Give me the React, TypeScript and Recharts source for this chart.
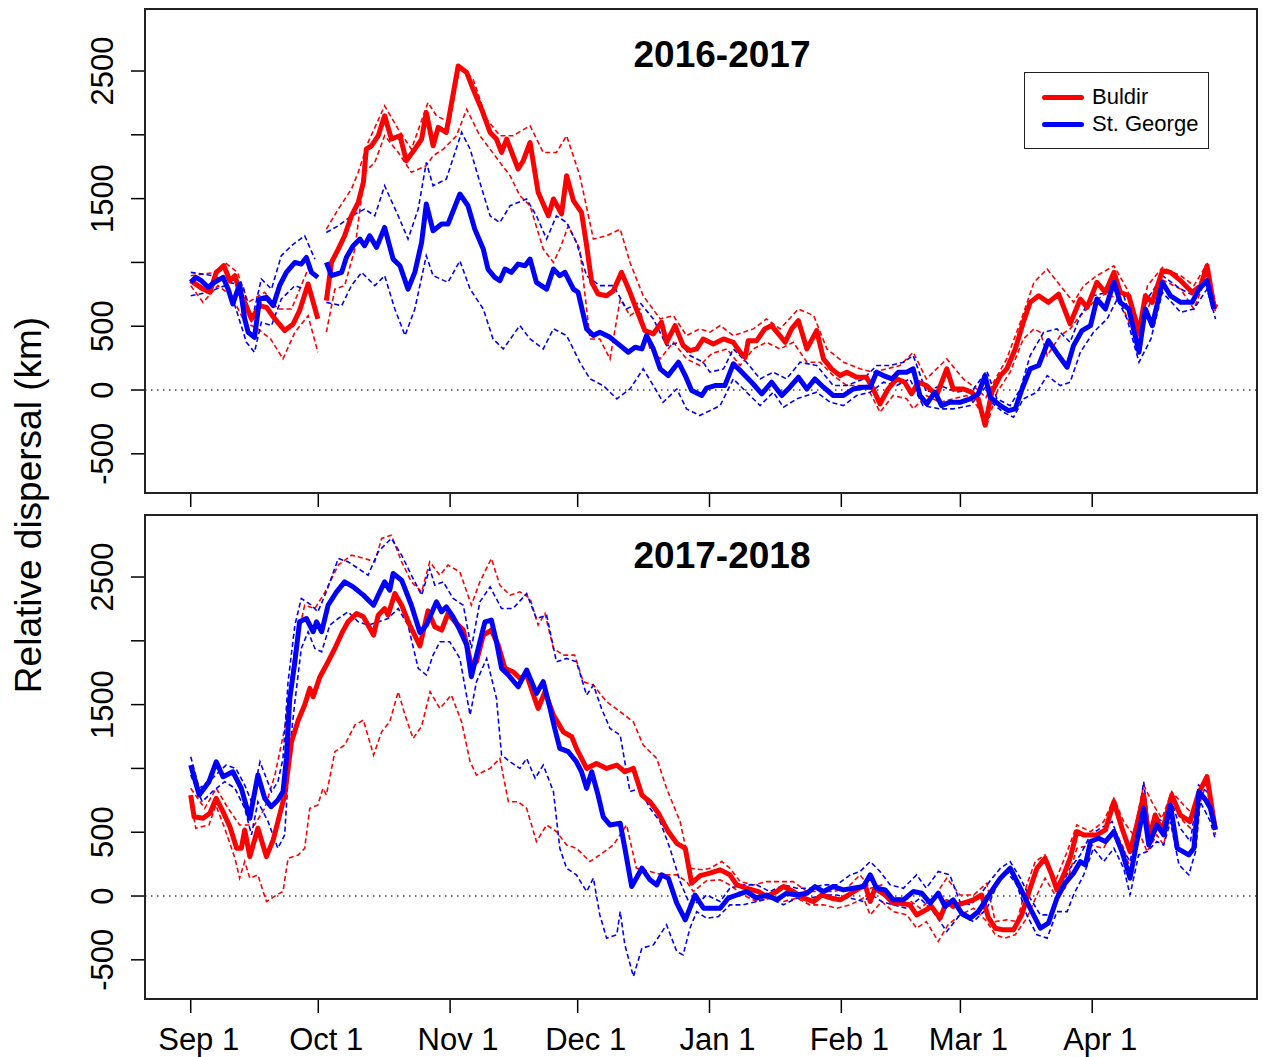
import { LineChart, Line, XAxis, YAxis, ReferenceLine } from 'recharts';

// days since Sep 1 -> relative dispersal (km); null marks a gap in the track
type Pt = [number, number | null];

const MONTH_TICKS = [0, 30, 61, 91, 122, 153, 181, 212];
const MONTH_LABELS = ['Sep 1', 'Oct 1', 'Nov 1', 'Dec 1', 'Jan 1', 'Feb 1', 'Mar 1', 'Apr 1'];
const Y_TICKS = [-500, 0, 500, 1000, 1500, 2000, 2500];
const Y_LABELED = [-500, 0, 500, 1500, 2500];

const RED = '#ff0000';
const BLUE = '#0000ff';
const FONT = 'Liberation Sans, Arial, Helvetica, sans-serif';

// ---- 2016-2017 ----
const buldir16: Pt[] = [[0,857],[2.9,791],[4.5,766],[6,922],[7.8,974],[9.2,857],[10.4,896],[11.5,766],[12.7,687],[14.3,557],[16.2,661],[17.8,648],[19.8,557],[22.1,466],[24.1,518],[25.6,622],[27.6,831],[29.9,557],[30.9,null],[31.9,700],[33.1,1000],[34.7,1104],[36.2,1209],[37.8,1365],[39.4,1470],[40.6,1627],[41.3,1888],[42.5,1914],[44.1,1993],[45.6,2149],[47.2,1967],[49.2,1993],[50.7,1797],[52.7,1888],[54.3,1967],[55.4,2175],[57,1914],[58.2,2058],[60.1,2019],[62.9,2540],[64.9,2488],[66.4,2358],[68.4,2201],[70.4,2019],[71.9,1967],[73.1,1862],[74.3,1967],[75.8,1836],[77,1732],[78.2,1797],[79.8,1940],[81.7,1549],[84.1,1366],[85.3,1497],[87.2,1380],[88.4,1680],[90,1484],[91.9,1392],[93.1,1131],[94.3,844],[95.8,752],[97.8,739],[99.4,778],[101.3,922],[103.3,766],[104.8,635],[106.8,466],[108.8,440],[110.7,531],[111.9,374],[113.9,505],[115.8,348],[117.4,309],[119,322],[120.5,400],[122.9,361],[125.3,400],[127.6,374],[129.2,296],[130.4,257],[131.1,387],[133.1,387],[135,479],[136.6,505],[138.2,440],[139.8,374],[141.3,479],[142.9,544],[144.9,322],[147.2,466],[148.8,244],[150.7,166],[152.7,113],[154.3,140],[156.6,100],[158.9,100],[160.5,8],[162.1,-109],[164,8],[166,87],[167.9,61],[169.5,-30],[171.1,61],[173,35],[175.4,-43],[177.8,166],[179.3,8],[181.7,8],[183.6,-17],[185.2,-69],[186.8,-275],[188.4,-17],[190.4,113],[191.9,166],[193.9,322],[195.8,531],[197.4,687],[199.4,739],[201.7,687],[204.1,752],[206.8,518],[209.2,713],[210.8,648],[213.1,844],[215.1,766],[217.1,922],[218.6,766],[220.6,739],[223,453],[224.5,739],[226.1,687],[228.5,935],[230.4,922],[232.8,857],[235.5,766],[237.5,818],[239,974],[240.6,661],[241.4,648]];
const buldir16Hi: Pt[] = [[0,896],[5.9,922],[8,1000],[11,922],[13.5,687],[17.4,766],[20.5,635],[23.7,635],[27.6,948],[29.9,896],[30.9,null],[31.9,1261],[34.7,1418],[37.8,1575],[39.4,1706],[41.7,1940],[45.6,2227],[48.8,2045],[51.9,1888],[55.8,2253],[57.8,2149],[60.9,2097],[63.3,2540],[66.4,2436],[69.6,2123],[72.7,1993],[75.8,1993],[79.8,2071],[82.9,1862],[86,1862],[88.4,1993],[91.5,1680],[94.7,1183],[97.8,1209],[101,1261],[103.3,1000],[106.4,739],[110.4,557],[113.5,583],[116.6,427],[119.7,479],[122.1,453],[124.5,505],[127.6,427],[132.3,479],[135.4,557],[138.6,479],[142.9,635],[146.5,583],[149.6,322],[153.5,218],[157.4,166],[160.5,140],[163.7,166],[166.8,192],[169.9,296],[173,87],[177.8,244],[181.7,87],[184.9,8],[187,-60],[188.8,61],[191.9,244],[195.1,531],[198.3,844],[201.4,948],[204.5,818],[207.6,687],[210,818],[213.1,896],[217.1,974],[220.2,791],[223,505],[225,818],[228.5,961],[232.8,896],[235.9,818],[239,987],[241,661]];
const buldir16Lo: Pt[] = [[0,818],[2.9,687],[6.4,818],[9.6,739],[12.7,531],[15.8,479],[18.8,400],[21.7,244],[24.5,453],[27.6,583],[29.9,296],[30.9,null],[31.9,453],[33.9,791],[36.2,818],[38.6,1105],[40.9,1706],[43.3,1784],[45.6,1993],[48.8,1862],[51.9,1706],[55.4,1758],[57,1836],[59.4,1888],[62.5,1993],[64.9,2201],[68,1993],[70.4,1888],[72.7,1784],[75.1,1680],[77.4,1523],[79.8,1444],[82.9,1105],[85.3,1000],[86.8,1105],[88.8,1287],[91.5,1105],[93.9,400],[96.2,400],[98.6,244],[101,713],[103.3,583],[105.6,635],[108,322],[110.4,244],[113.5,374],[116.6,244],[119.7,192],[122.5,285],[126.1,322],[129.2,192],[132.3,322],[135.4,374],[138.6,322],[141.7,374],[144.9,218],[148,218],[151.1,113],[154.3,35],[158.9,35],[162.1,-174],[165.2,-43],[168.4,-69],[169.9,-148],[173,-43],[176.2,-96],[179.3,-69],[182.5,-43],[184.9,-122],[187.2,-278],[189.6,-17],[192.7,140],[195.8,400],[198.3,479],[199.8,453],[201.4,270],[204.5,427],[206.8,479],[209.2,583],[212.3,687],[215.5,766],[218.6,687],[222.5,400],[225,635],[228.1,870],[232.8,791],[235.9,635],[239,896],[241,609]];
const george16: Pt[] = [[0,844],[1.2,883],[2.5,857],[4.1,805],[5.6,844],[7.6,883],[8.8,791],[9.9,674],[11.5,831],[12.7,557],[13.5,453],[15,413],[16.2,713],[17.8,726],[19.4,661],[20.9,818],[22.5,922],[24.5,1000],[26,987],[27.2,1039],[28.4,922],[29.9,883],[30.9,null],[31.9,1000],[33.1,896],[35.5,922],[36.6,1039],[38.2,1131],[39.8,1183],[40.9,1131],[42.1,1209],[43.7,1118],[45.6,1274],[47.6,1026],[49.2,974],[51.1,791],[52.7,922],[54.3,1157],[55.4,1457],[57,1248],[59,1301],[60.5,1301],[63.3,1536],[65.2,1444],[66.8,1261],[68.8,1105],[69.9,948],[71.5,883],[72.7,857],[73.9,948],[75.4,922],[77,987],[78.6,974],[79.8,1026],[81.3,844],[83.7,791],[85.3,948],[86.8,896],[88,922],[90,791],[91.1,766],[93.1,479],[94.7,427],[96.2,453],[98.6,413],[101,348],[102.9,296],[104.5,335],[106.1,322],[107.2,427],[108.8,322],[110.4,166],[112.3,113],[114.7,218],[116.3,113],[117.8,-4],[120.2,-43],[121.3,15],[123.3,35],[125.6,35],[127.6,205],[129.6,140],[131.9,61],[134.3,-30],[136.6,61],[139,-43],[140.9,22],[142.9,100],[144.9,8],[146.8,87],[148.8,22],[151.1,-43],[153.5,-43],[155.8,8],[158.2,22],[159.8,22],[161.3,140],[162.9,113],[164.9,87],[166.4,140],[168.4,140],[169.9,166],[171.5,-43],[173.1,-109],[175,-17],[176.6,-122],[178.5,-96],[180.9,-96],[183.3,-69],[185.2,-30],[186.8,113],[188,-56],[190.4,-122],[192.3,-161],[193.9,-148],[195.5,8],[197.4,166],[199.4,192],[201.7,387],[204.1,270],[206.1,179],[207.6,348],[209.6,466],[211.6,505],[213.1,713],[215.1,635],[217.1,844],[218.6,687],[220.6,635],[223,296],[224.5,635],[226.1,505],[228.5,844],[230.4,739],[232.8,687],[235.5,687],[237.1,791],[239,857],[240.6,635]];
const george16Hi: Pt[] = [[0,922],[5.1,896],[9,844],[12.3,818],[14.3,531],[16.6,870],[19,791],[21.3,1052],[23.7,1131],[26.8,1209],[29.2,1026],[30.9,null],[31.9,1235],[34.7,1287],[37.8,1365],[40.9,1418],[43.3,1365],[45.6,1601],[48.8,1365],[51.1,1183],[53.5,1418],[55.4,1784],[57,1601],[60.1,1653],[63.7,2019],[65.7,1888],[68,1627],[70.4,1365],[72.7,1313],[75.1,1444],[79,1497],[81.3,1365],[83.7,1183],[86,1365],[88.4,1313],[90.7,1157],[93.1,896],[96.2,818],[99.4,818],[102.5,635],[105.6,687],[108.8,557],[111.9,348],[115.1,374],[117.4,270],[120.5,218],[122.1,140],[125.3,166],[127.6,322],[130.7,218],[133.9,87],[137,140],[140.1,87],[143.3,218],[147.2,192],[151.1,35],[154.3,35],[158.2,87],[161.3,192],[164.5,192],[167.6,218],[169.9,270],[173,-17],[176.2,35],[180.1,-17],[184.1,8],[187.2,150],[189.6,-69],[192.7,-122],[195.1,8],[197.4,270],[200.6,453],[203.7,479],[206.8,374],[209.2,583],[212.3,739],[215.5,766],[217.1,896],[219.4,739],[223,374],[225,713],[228.5,896],[232.8,791],[235.9,739],[239,922],[241,687]];
const george16Lo: Pt[] = [[0,739],[4.1,766],[8,818],[10.4,661],[13.1,374],[15,296],[16.6,531],[19,505],[21.3,713],[24.5,818],[26.8,791],[28.8,713],[30.9,null],[31.9,687],[35.5,661],[37.8,818],[40.2,922],[43.3,818],[45.6,896],[48,635],[50.4,427],[52.7,635],[55.4,1052],[57,896],[60.5,844],[63.3,1013],[65.7,791],[68.8,635],[71.1,400],[73.5,322],[77.4,505],[79.8,400],[82.9,322],[85.3,479],[88.4,427],[91.5,218],[93.9,87],[97,35],[100.2,-69],[103.3,8],[106.4,166],[108.8,35],[111.1,-96],[114.3,8],[116.6,-148],[119.7,-200],[121.3,-174],[124.5,-122],[127.6,87],[130.7,-17],[133.9,-122],[137,-17],[139.4,-135],[142.5,-69],[144.9,-43],[147.2,-17],[150.4,-96],[153.5,-122],[156.6,-43],[159.8,-17],[162.9,61],[166,35],[169.1,87],[172.2,-122],[176.2,-148],[179.3,-148],[183.3,-122],[187.2,35],[188.2,-96],[191.1,-174],[193.5,-213],[195.8,-69],[199,-17],[201.4,113],[204.5,35],[206.8,61],[209.2,296],[212.3,453],[215.5,557],[217.9,713],[220.2,557],[223,218],[225.8,400],[228.5,766],[232.8,609],[235.9,635],[239,791],[241,557]];

// ---- 2017-2018 ----
const buldir17: Pt[] = [[0,791],[0.8,621],[2.9,609],[4.5,648],[6,766],[7.6,661],[9.2,544],[10.8,374],[11.9,374],[12.7,518],[13.9,309],[15.8,531],[17.8,309],[19.4,440],[20.9,635],[22.1,791],[23.7,1209],[25.3,1379],[26.8,1497],[28,1627],[28.8,1562],[30.4,1719],[31.9,1810],[33.9,1940],[35.5,2058],[37,2149],[39,2214],[40.6,2188],[43,2045],[44.1,2201],[45.6,2253],[46.4,2201],[48,2371],[49.6,2279],[51.5,2123],[53.9,1960],[55.8,2235],[57.4,2110],[59,2084],[60.5,2214],[62.5,2136],[64.1,2084],[66,1810],[67.2,1836],[68.8,2045],[70.7,2084],[72.3,1967],[73.9,1784],[75.8,1758],[77.4,1706],[79,1732],[80.6,1575],[81.7,1470],[83.3,1601],[85.3,1418],[87.6,1287],[89.6,1248],[90.7,1157],[93.1,1000],[95.4,1039],[97.8,1000],[100.2,1026],[102.1,974],[104.1,1000],[106.1,791],[108,739],[110,648],[112.3,505],[114.3,413],[116.3,374],[117.8,100],[119.8,160],[122.1,179],[124.5,205],[126.8,166],[128.4,87],[130.7,61],[133.5,35],[135.4,-4],[137.8,35],[139.4,74],[141.7,35],[144.1,-17],[146.5,-43],[148.4,8],[150.7,-17],[152.7,-30],[154.7,8],[156.6,48],[158.6,87],[159.8,-43],[160.9,61],[163.3,8],[165.2,-56],[166.8,-56],[169.1,-69],[170.7,-148],[172.2,-122],[174.2,-82],[176.2,-174],[177.8,-43],[179.3,-82],[181.7,-56],[184.1,-30],[186,8],[187.6,-170],[189.2,-252],[191.1,-265],[193.5,-265],[195.4,-148],[197.4,61],[199,218],[200.9,296],[202.5,166],[203.7,48],[205.3,166],[206.8,296],[208.4,505],[210,479],[211.6,479],[213.1,479],[215.1,518],[217.1,739],[219,531],[220.9,348],[222.5,557],[224.1,791],[225.3,440],[226.8,635],[228.4,505],[230.7,791],[232.7,635],[235,583],[237,805],[239,935],[240.9,531]];
const buldir17Hi: Pt[] = [[0,844],[3.3,687],[6,844],[8.8,687],[11.5,557],[15,557],[17.4,687],[19.8,948],[22.1,1313],[24.5,1940],[26.8,2279],[29.2,2253],[31.6,2384],[34.7,2593],[37.8,2671],[40.9,2645],[43.3,2619],[44.9,2802],[47.2,2828],[49.6,2619],[51.9,2462],[54.3,2384],[56.2,2619],[58.6,2514],[60.5,2593],[63.3,2540],[66,2279],[68,2462],[70.7,2645],[72.7,2436],[75.1,2358],[77.4,2384],[79.8,2332],[81.7,2123],[83.3,2214],[85.3,1940],[87.6,1888],[90.3,1888],[92.3,1680],[94.7,1653],[97.8,1523],[101,1444],[104.1,1365],[106.4,1183],[109.6,1078],[111.9,844],[115.1,583],[117.4,218],[120.5,205],[122.1,218],[124.9,270],[126.8,218],[129.2,113],[132.3,87],[135.4,113],[138.9,113],[141.7,113],[144.9,35],[148,35],[151.1,35],[154.3,61],[157.4,166],[159.8,61],[162.5,87],[165.2,-17],[168.4,-17],[171.5,-96],[174.6,-17],[177.8,140],[180.9,8],[184.1,8],[187.2,100],[189.2,-200],[191.9,-187],[194.3,-200],[196.6,87],[198.6,270],[200.9,322],[203.3,113],[206.1,348],[208.4,557],[211.6,505],[214.7,583],[217.1,766],[219.4,583],[221.7,479],[224.1,870],[226.4,713],[228.4,609],[230.7,818],[233.5,713],[235.9,635],[237.4,844],[239,961],[241,557]];
const buldir17Lo: Pt[] = [[0,739],[1.2,531],[4.3,557],[5.9,713],[8,531],[10.4,296],[11.5,140],[12.7,270],[13.9,140],[15.8,166],[17.8,-43],[20.2,8],[21.7,35],[22.9,296],[25.3,322],[26.8,374],[28,687],[29.9,713],[31.1,844],[31.9,791],[33.9,1131],[36.2,1183],[38.6,1339],[40.6,1379],[43,1105],[44.9,1287],[46.8,1365],[48.8,1601],[50.4,1418],[52.3,1235],[54.3,1330],[56.3,1601],[58.6,1470],[61.3,1575],[63.7,1365],[65.7,1052],[67.2,948],[70.4,1000],[72.7,1078],[74.7,739],[77,739],[79,687],[81.3,427],[83.7,557],[86,505],[88.4,400],[90.7,374],[93.9,270],[96.2,322],[99.4,400],[102.5,557],[104.8,218],[108,192],[111.1,166],[114.3,166],[116.6,113],[118.2,35],[121.3,120],[124.5,127],[126.8,87],[129.9,8],[133.1,-43],[136.2,-17],[139.4,-43],[142.5,-17],[145.6,-69],[148.8,-69],[151.9,-96],[155.1,-69],[158.2,-17],[159.8,-148],[162.5,-43],[165.2,-122],[168.4,-148],[170.7,-252],[173,-200],[175.8,-356],[178.1,-226],[180.9,-148],[184.1,-96],[187.2,-200],[189.2,-304],[191.5,-330],[193.9,-304],[196.6,-174],[199,8],[200.9,140],[203.3,8],[205.6,61],[208.4,374],[211.6,400],[214.7,374],[217.1,531],[219.4,374],[220.9,218],[223.3,479],[224.9,348],[227.2,479],[228.8,400],[230.7,713],[233.5,583],[235.9,505],[237.4,739],[239,896],[241,479]];
const george17: Pt[] = [[0,1026],[2,791],[4.3,896],[6,1052],[7.6,935],[9.9,974],[11.9,844],[13.9,609],[15.8,948],[17.4,766],[18.9,700],[20.5,752],[21.7,818],[22.5,1078],[23.3,1549],[24.5,1836],[25.6,2149],[27.2,2175],[28.8,2071],[29.6,2149],[30.8,2071],[32.3,2279],[34.3,2384],[36.2,2462],[38.2,2423],[40.6,2358],[43,2279],[44.1,2358],[45.6,2462],[46.8,2397],[47.6,2527],[49.6,2475],[51.9,2279],[53.9,2065],[55.4,2123],[56.6,2214],[57.8,2306],[59,2227],[60.1,2266],[61.7,2188],[63.3,2084],[64.9,1967],[66,1719],[67.6,1940],[69.2,2149],[70.7,2162],[71.9,1993],[73.1,1784],[74.7,1732],[77,1640],[79,1771],[81.3,1588],[82.9,1680],[84.5,1470],[85.6,1313],[86.8,1157],[88.8,1131],[90.7,1052],[91.9,974],[93.1,844],[94.3,974],[95.8,791],[97,621],[98.6,557],[101,570],[102.1,374],[103.7,74],[106.1,218],[108,127],[109.6,87],[110.7,166],[112.3,140],[114.3,-56],[116.3,-187],[118.6,8],[120.6,-96],[122.1,-96],[124.5,-96],[126.4,-17],[128.4,8],[130.7,35],[133.1,-17],[135.4,8],[137.8,-30],[140.1,22],[142.5,8],[144.9,22],[146.8,74],[148.8,35],[151.1,74],[153.5,48],[155.8,61],[158.2,74],[159.8,166],[161.3,61],[163.3,48],[165.2,-30],[167.6,-30],[169.9,35],[171.9,22],[173.9,-56],[175.8,22],[177.4,-82],[179.3,-30],[181.3,-135],[183.3,-174],[185.2,-122],[186.8,-43],[188,22],[190.4,140],[192.7,218],[195.1,61],[197.4,-96],[199.8,-252],[201.7,-213],[203.7,-17],[205.6,100],[207.6,179],[209.2,270],[210.4,244],[211.6,427],[213.5,453],[215.1,427],[217.1,505],[219,348],[220.9,140],[222.5,427],[224.1,687],[225.3,400],[227.2,557],[228.8,479],[230.4,713],[232,374],[234.7,322],[235.9,374],[237.1,818],[238.7,752],[239.8,687],[241,518]];
const george17Hi: Pt[] = [[0,1092],[2,844],[5.1,922],[8.3,1026],[10.6,1000],[12.7,870],[14.3,739],[16.3,1052],[19,818],[20.5,896],[21.7,1078],[22.9,1680],[24.5,2123],[26,2332],[28.4,2279],[29.9,2227],[31.9,2384],[34.7,2645],[37,2619],[39.4,2567],[41.7,2514],[44.1,2697],[45.6,2750],[47.2,2802],[49.6,2671],[51.9,2514],[54.3,2358],[56.2,2567],[57.4,2436],[59.4,2462],[61.7,2332],[64.1,2279],[66,1940],[68,2306],[70.4,2423],[73.1,2253],[75.8,2253],[79,2371],[81.3,2175],[83.7,2201],[86,1836],[88.4,1862],[90.7,1836],[93.1,1575],[94.7,1653],[96.6,1470],[98.6,1313],[101,1261],[103.3,818],[105.6,844],[108,687],[110.4,583],[112.7,374],[115.1,113],[117.4,-69],[119.7,-43],[121.3,8],[124.5,-43],[126.8,61],[129.9,87],[133.1,87],[136.2,35],[139.4,87],[142.5,61],[145.6,61],[148.8,87],[151.9,87],[155.1,166],[157.4,192],[159.8,270],[162.1,192],[164.5,87],[167.6,61],[170.7,166],[173,61],[175.8,192],[178.5,166],[180.9,-43],[183.3,-69],[185.6,8],[188,120],[190.4,218],[192.7,270],[195.1,140],[197.4,-17],[199.8,-148],[202.1,-148],[204.5,61],[206.8,218],[209.2,322],[211.6,479],[213.9,531],[216.7,583],[218.6,400],[220.9,270],[222.5,531],[224.1,896],[225.6,479],[227.2,609],[228.8,583],[230.4,766],[232.7,531],[235.1,427],[237,870],[239,818],[241,583]];
const george17Lo: Pt[] = [[0,948],[2.7,739],[5.1,818],[8,896],[10.4,844],[12.7,687],[14.3,479],[15.8,739],[18.2,583],[20.5,374],[22.1,479],[23.3,1157],[24.5,1523],[26,1940],[27.6,2071],[29.2,1940],[30.8,1914],[32.7,2123],[34.7,2175],[37,2227],[39.4,2149],[41.7,2123],[44.1,2149],[46.4,2175],[48.8,2253],[51.1,2123],[53.5,1784],[55.4,1732],[57,1888],[58.6,1993],[60.9,1993],[63.3,1862],[65.7,1418],[67.2,1680],[69.6,1862],[71.9,1549],[73.1,1105],[75.1,1052],[77.4,1000],[79,1078],[81,922],[82.9,1026],[85.3,818],[86.8,374],[88.4,218],[90.7,166],[93.1,35],[94.7,140],[96.2,-148],[97.8,-330],[100.2,-304],[101,-122],[102.1,-383],[104.1,-631],[106.1,-409],[108.8,-383],[111.9,-226],[114.3,-435],[115.8,-461],[117.4,-252],[119,-122],[121.3,-174],[124.1,-161],[126.8,-69],[129.9,-69],[133.1,-43],[136.2,-17],[139.4,-69],[142.5,-17],[145.6,-17],[148.8,8],[151.9,8],[155.1,-17],[158.2,-43],[160.2,8],[162.5,-43],[165.2,-69],[168.4,-96],[171.5,-17],[174.6,-122],[177.8,-278],[180.9,-148],[184.1,-200],[187.2,-100],[189.6,87],[191.9,192],[194.3,87],[196.6,-148],[199,-304],[201.4,-330],[203.7,-122],[206.1,-122],[207.6,8],[210,166],[212.3,374],[214.7,270],[217.1,374],[219.4,218],[220.9,8],[222.9,322],[224.9,348],[227.2,427],[228.8,400],[230.4,583],[232.4,244],[234.7,166],[236.3,348],[237.4,739],[239.8,583],[241,440]];

const toRows = (pts: Pt[]) => pts.map(([d, v]) => ({ d, v }));

const XTick = ({ x, y, payload, show }: any) => {
  if (!show) return <g />;
  const i = MONTH_TICKS.indexOf(payload.value);
  return (
    <text x={x + 8} y={y + 37} textAnchor="middle" fontSize={31} fontFamily={FONT} fill="#000">
      {MONTH_LABELS[i]}
    </text>
  );
};

const YTick = ({ x, y, payload }: any) => {
  if (!Y_LABELED.includes(payload.value)) return <g />;
  const bx = x - 18;
  return (
    <text x={bx} y={y} transform={`rotate(-90 ${bx} ${y})`} textAnchor="middle" fontSize={31} fontFamily={FONT} fill="#000">
      {payload.value}
    </text>
  );
};

interface PanelProps {
  red: Pt[];
  redHi: Pt[];
  redLo: Pt[];
  blue: Pt[];
  blueHi: Pt[];
  blueLo: Pt[];
  height: number;
  top: number;
  axisHeight: number;
  labels: boolean;
}

function Panel({ red, redHi, redLo, blue, blueHi, blueLo, height, top, axisHeight, labels }: PanelProps) {
  const dashed = (pts: Pt[], color: string, key: string) => (
    <Line
      key={key}
      data={toRows(pts)}
      dataKey="v"
      stroke={color}
      strokeWidth={1.6}
      strokeDasharray="5 3"
      dot={false}
      activeDot={false}
      legendType="none"
      isAnimationActive={false}
      connectNulls={false}
    />
  );
  return (
    <LineChart width={1263} height={height} margin={{ top, right: 6, bottom: 0, left: 0 }}>
      <XAxis
        type="number"
        dataKey="d"
        domain={[-10.75, 250.75]}
        allowDataOverflow
        ticks={MONTH_TICKS}
        interval={0}
        height={axisHeight}
        axisLine={false}
        tickSize={14}
        tickMargin={0}
        tickLine={{ stroke: '#000', strokeWidth: 1.5 }}
        tick={<XTick show={labels} />}
      />
      <YAxis
        type="number"
        domain={[-807, 2986]}
        allowDataOverflow
        ticks={Y_TICKS}
        interval={0}
        width={145}
        axisLine={false}
        tickSize={14}
        tickMargin={0}
        tickLine={{ stroke: '#000', strokeWidth: 1.5 }}
        tick={<YTick />}
      />
      <ReferenceLine y={0} stroke="#444" strokeWidth={1.5} strokeDasharray="1.5 4.5" />
      {dashed(redHi, RED, 'rh')}
      {dashed(redLo, RED, 'rl')}
      {dashed(blueHi, BLUE, 'bh')}
      {dashed(blueLo, BLUE, 'bl')}
      <Line data={toRows(red)} dataKey="v" name="Buldir" stroke={RED} strokeWidth={5} dot={false} activeDot={false}
        strokeLinejoin="round" isAnimationActive={false} connectNulls={false} />
      <Line data={toRows(blue)} dataKey="v" name="St. George" stroke={BLUE} strokeWidth={5} dot={false} activeDot={false}
        strokeLinejoin="round" isAnimationActive={false} connectNulls={false} />
    </LineChart>
  );
}

export default function App() {
  return (
    <div style={{ position: 'absolute', left: 0, top: 0, width: 1263, height: 1057, background: '#fff', fontFamily: FONT }}>
      <div style={{ position: 'absolute', left: 0, top: 0 }}>
        <Panel red={buldir16} redHi={buldir16Hi} redLo={buldir16Lo} blue={george16} blueHi={george16Hi} blueLo={george16Lo}
          height={510} top={9} axisHeight={17} labels={false} />
      </div>
      <div style={{ position: 'absolute', left: 0, top: 505 }}>
        <Panel red={buldir17} redHi={buldir17Hi} redLo={buldir17Lo} blue={george17} blueHi={george17Hi} blueLo={george17Lo}
          height={552} top={10} axisHeight={58} labels />
      </div>

      <svg width={1263} height={1057} style={{ position: 'absolute', left: 0, top: 0, pointerEvents: 'none' }}>
        <rect x={145} y={9} width={1112} height={484} fill="none" stroke="#222" strokeWidth={2} />
        <rect x={145} y={515} width={1112} height={484} fill="none" stroke="#222" strokeWidth={2} />
        <text x={722} y={67} textAnchor="middle" fontSize={37} fontWeight="bold" fontFamily={FONT}>2016-2017</text>
        <text x={722} y={568} textAnchor="middle" fontSize={37} fontWeight="bold" fontFamily={FONT}>2017-2018</text>
        <text x={41} y={505} transform="rotate(-90 41 505)" textAnchor="middle" fontSize={37} fontFamily={FONT}>
          Relative dispersal (km)
        </text>
      </svg>

      <div style={{ position: 'absolute', left: 1024, top: 72, width: 183, height: 75, border: '1.5px solid #222', background: '#fff' }}>
        {[{ name: 'Buldir', color: RED }, { name: 'St. George', color: BLUE }].map((item, i) => (
          <div key={item.name} style={{ position: 'absolute', left: 17, top: 12 + i * 27, height: 24, display: 'flex', alignItems: 'center' }}>
            <div style={{ width: 42, height: 5, background: item.color, borderRadius: 3 }} />
            <span style={{ marginLeft: 8, fontSize: 22, lineHeight: '24px', color: '#000' }}>{item.name}</span>
          </div>
        ))}
      </div>
    </div>
  );
}
